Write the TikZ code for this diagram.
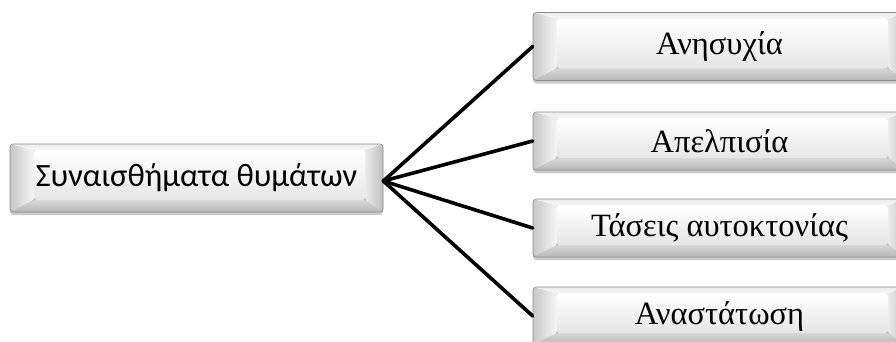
\documentclass[tikz,border=0pt]{standalone}
\usepackage{fontspec}
\setmainfont{Liberation Serif}
\newfontfamily\labelsans{Carlito}
\usetikzlibrary{calc,shadows}

\tikzset{
  bevelbox/.style={
    rectangle, rounded corners=3pt, draw=black!45, line width=0.6pt,
    top color=black!6, bottom color=black!28,
    drop shadow={shadow xshift=0pt, shadow yshift=-3pt, opacity=0.35, fill=black!60},
    inner sep=0pt, align=center,
    path picture={
      \coordinate (o1) at (path picture bounding box.north west);
      \coordinate (o2) at (path picture bounding box.north east);
      \coordinate (o3) at (path picture bounding box.south east);
      \coordinate (o4) at (path picture bounding box.south west);
      \coordinate (i1) at ($(o1)+(24pt,-6pt)$);
      \coordinate (i2) at ($(o2)+(-18pt,-6pt)$);
      \coordinate (i3) at ($(o3)+(-18pt,12pt)$);
      \coordinate (i4) at ($(o4)+(24pt,12pt)$);
      % left facet with its light wedge
      \shade[left color=black!22, right color=black!4] (o1) -- (i1) -- (i4) -- (o4) -- cycle;
      \fill[white] ($(i1)+(0pt,-4pt)$) -- ($(i1)!0.5!(i4)+(0pt,0pt)$) -- ($(i4)+(0pt,4pt)$) -- cycle;
      % right facet
      \shade[left color=black!8, right color=black!25] (o2) -- (i2) -- (i3) -- (o3) -- cycle;
      % top and bottom facets
      \shade[top color=black!8, bottom color=black!3] (o1) -- (o2) -- (i2) -- (i1) -- cycle;
      \shade[top color=black!16, bottom color=black!28] (o4) -- (o3) -- (i3) -- (i4) -- cycle;
      % face
      \shade[top color=white, bottom color=black!10] (i1) rectangle (i3);
    }
  },
  linkline/.style={line width=3.6pt, black, line cap=round},
  mainfont/.style={font=\labelsans\fontsize{32.5}{36}\selectfont},
  itemfont/.style={font=\fontsize{32.5}{36}\selectfont},
}

\begin{document}
\begin{tikzpicture}[x=1pt, y=-1pt]
  \useasboundingbox (0,0) rectangle (896,341);

  \node[bevelbox, mainfont, minimum width=373pt, minimum height=68pt]
    (root) at (196.5,178) {Συναισθήματα θυμάτων};

  \node[bevelbox, itemfont, minimum width=373pt, minimum height=68pt]
    (a) at (719.5,46.5) {Ανησυχία};
  \node[bevelbox, itemfont, minimum width=373pt, minimum height=58pt]
    (b) at (719.5,141) {Απελπισία};
  \node[bevelbox, itemfont, minimum width=373pt, minimum height=58pt]
    (c) at (719.5,228) {Τάσεις αυτοκτονίας};
  \node[bevelbox, itemfont, minimum width=373pt, minimum height=58pt]
    (d) at (719.5,316) {Αναστάτωση};

  \coordinate (hub) at ($(root.east)+(0,3)$);
  \foreach \t in {a,b,c,d}
    \draw[linkline] (hub) -- (\t.west);
\end{tikzpicture}
\end{document}
